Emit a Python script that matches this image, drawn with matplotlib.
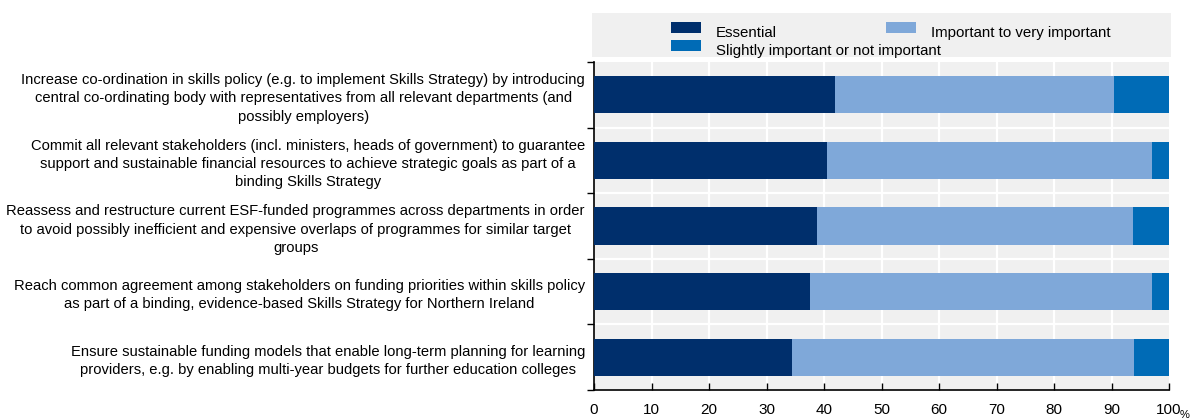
import matplotlib
matplotlib.use("Agg")
import matplotlib.pyplot as plt
from matplotlib.patches import Rectangle
from matplotlib.transforms import ScaledTranslation
import numpy as np

plt.rcParams['font.family'] = ['Liberation Sans', 'DejaVu Sans']

categories = [
    "Increase co-ordination in skills policy (e.g. to implement Skills Strategy) by introducing\n"
    "central co-ordinating body with representatives from all relevant departments (and\n"
    "possibly employers)",
    "Commit all relevant stakeholders (incl. ministers, heads of government) to guarantee\n"
    "support and sustainable financial resources to achieve strategic goals as part of a\n"
    "binding Skills Strategy",
    "Reassess and restructure current ESF-funded programmes across departments in order\n"
    "to avoid possibly inefficient and expensive overlaps of programmes for similar target\n"
    "groups",
    "Reach common agreement among stakeholders on funding priorities within skills policy\n"
    "as part of a binding, evidence-based Skills Strategy for Northern Ireland",
    "Ensure sustainable funding models that enable long-term planning for learning\n"
    "providers, e.g. by enabling multi-year budgets for further education colleges",
]
essential = [41.9, 40.6, 38.7, 37.5, 34.4]
important = [48.5, 56.4, 55.0, 59.5, 59.5]
slightly = [9.6, 3.0, 6.3, 3.0, 6.1]

series_names = ["Essential", "Important to very important", "Slightly important or not important"]
series_colors = ["#002F6C", "#7FA8D9", "#006BB6"]
x_ticks = [0, 10, 20, 30, 40, 50, 60, 70, 80, 90, 100]

W, H = 1195, 420
fig = plt.figure(figsize=(W / 100, H / 100), dpi=100)
ax = fig.add_axes([594 / W, 1 - 390 / H, 575 / W, 328 / H])
ax.set_facecolor("#F0F0F0")

n = len(categories)
y = np.arange(n)
ess = np.array(essential)
imp = np.array(important)
sl = np.array(slightly)
bh = 0.57
ax.barh(y, ess, height=bh, color=series_colors[0], zorder=3)
ax.barh(y, imp, left=ess, height=bh, color=series_colors[1], zorder=3)
ax.barh(y, sl, left=ess + imp, height=bh, color=series_colors[2], zorder=3)

ax.set_xlim(0, 100)
ax.set_ylim(n - 0.5, -0.5)

# gridlines: white vertical at tens, white horizontal between categories
for xv in x_ticks[1:-1]:
    ax.axvline(xv, color="white", lw=1.6, zorder=1)
for b in np.arange(n - 1) + 0.5:
    ax.axhline(b, color="white", lw=1.6, zorder=1)

ax.set_yticks(y)
ax.set_yticklabels(categories, fontsize=10.6, multialignment="center", linespacing=1.38)
shift = ScaledTranslation(0, 3 / 100, fig.dpi_scale_trans)
for lbl in ax.get_yticklabels():
    lbl.set_transform(lbl.get_transform() + shift)
ax.set_yticks(np.arange(n + 1) - 0.5, minor=True)
ax.tick_params(axis="y", which="major", length=0, pad=6.5)
ax.tick_params(axis="y", which="minor", length=5, width=1, color="black", direction="out")

ax.set_xticks(x_ticks)
ax.set_xticklabels([str(v) for v in x_ticks], fontsize=11)
ax.tick_params(axis="x", direction="in", length=5, width=1, pad=9, color="black")
fig.text(1180 / W, 1 - 420 / H, "%", fontsize=8, ha="left", va="bottom")

for s in ["top", "right"]:
    ax.spines[s].set_visible(False)
for s in ["left", "bottom"]:
    ax.spines[s].set_color("black")
    ax.spines[s].set_linewidth(1.2)

# legend panel
fig.patches.append(Rectangle((592 / W, 1 - 57 / H), 579 / W, 44 / H,
                             transform=fig.transFigure, facecolor="#F0F0F0",
                             edgecolor="none", zorder=0))
legend_pos = [(671, 22), (886, 22), (671, 40)]
for (px, py), name, col in zip(legend_pos, series_names, series_colors):
    fig.patches.append(Rectangle((px / W, 1 - (py + 11) / H), 30 / W, 11 / H,
                                 transform=fig.transFigure, facecolor=col,
                                 edgecolor="none", zorder=1))
    fig.text((px + 45) / W, 1 - (py + 15) / H, name, fontsize=10.8,
             ha="left", va="baseline")

fig.savefig("out.png", dpi=100)
